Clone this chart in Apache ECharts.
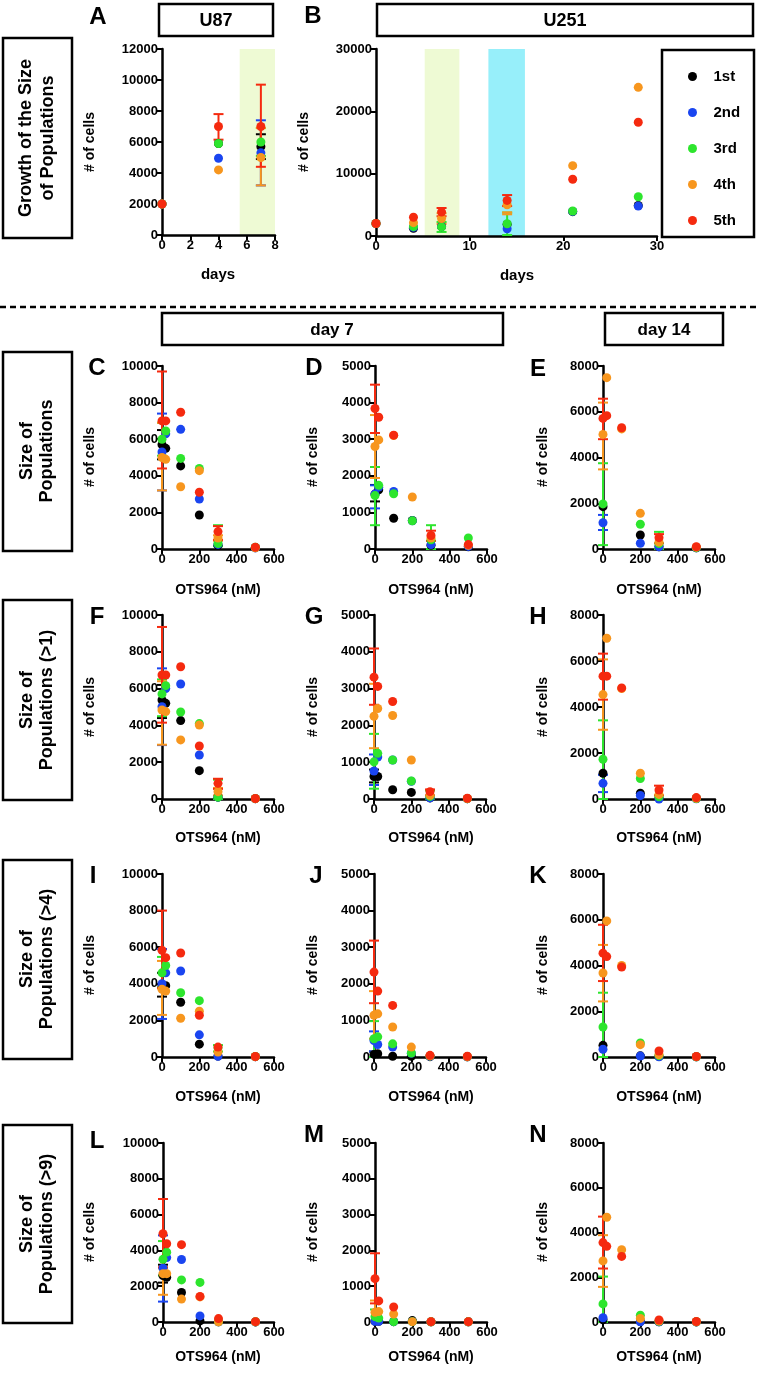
<!DOCTYPE html>
<html>
<head>
<meta charset="utf-8">
<script src="https://cdn.jsdelivr.net/npm/echarts@6/dist/echarts.min.js"></script>
<style>
html,body{margin:0;padding:0;background:#fff;}
#chart{width:757px;height:1374px;}
</style>
</head>
<body>
<div id="chart"></div>
<script>
// ---------------- DATA ----------------
const seriesNames = ['1st', '2nd', '3rd', '4th', '5th'];

// Panel A (U87 growth): days
const daysA = [0, 4, 7];
const A_cells = [
  [2000, 5900, 5700],
  [2000, 4950, 5300],
  [2000, 5900, 6000],
  [2000, 4200, 5000],
  [2000, 7000, 7000]
];
// [series, x, low, high]
const A_err = [
  [4, 4, 6150, 7800],
  [0, 7, 4900, 6500], [1, 7, 3200, 7400], [2, 7, 5100, 6900], [3, 7, 3200, 6900], [4, 7, 4400, 9700]
];
const A_shade = [[5.5, 8]];

// Panel B (U251 growth): days
const daysB = [0, 4, 7, 14, 21, 28];
const B_cells = [
  [2000, 1230, 1500, 1850, 3900, 4900],
  [2000, 1400, 1500, 1150, 3950, 4800],
  [2000, 1500, 1460, 1970, 4010, 6300],
  [2000, 2140, 2800, 5010, 11280, 23850],
  [2000, 3000, 3840, 5710, 9100, 18240]
];
const B_err = [
  [2, 7, 650, 2240], [3, 7, 1940, 3660], [4, 7, 3170, 4490],
  [2, 14, 150, 3750], [3, 14, 3480, 3800], [4, 14, 4800, 6570]
];
const B_shade = [[5.2, 8.9], [12, 15.9]];

// OTS964 doses (nM)
const doses = [0, 20, 100, 200, 300, 500];

const C_cells = [
  [5700, 5500, 4540, 1860, 200, 80],
  [5300, 6300, 6540, 2730, 250, 60],
  [6000, 6450, 4950, 4400, 300, 90],
  [5000, 4900, 3400, 4280, 600, 70],
  [7000, 7000, 7470, 3100, 950, 100]
];
const C_err = [
  [0, 0, 4900, 6500], [1, 0, 3200, 7400], [2, 0, 5100, 6900], [3, 0, 3200, 6900], [4, 0, 4400, 9700],
  [2, 300, 150, 1300], [3, 300, 450, 750], [4, 300, 500, 1250]
];

const D_cells = [
  [1500, 1620, 840, 780, 100, 60],
  [1500, 1690, 1570, 770, 120, 70],
  [1460, 1740, 1510, 770, 250, 300],
  [2800, 2980, 3100, 1420, 300, 100],
  [3840, 3600, 3110, null, 370, 120]
];
const D_err = [
  [0, 0, 1300, 1750], [1, 0, 1110, 1740], [2, 0, 650, 2240], [3, 0, 1940, 3660], [4, 0, 3170, 4490],
  [2, 300, 0, 650], [4, 300, 220, 500]
];

const E_cells = [
  [1850, null, null, 610, 100, 50],
  [1150, null, null, 250, 100, 50],
  [1970, null, null, 1080, 240, 60],
  [5010, 7490, 5250, 1560, 300, 80],
  [5710, 5830, 5300, null, 495, 100]
];
const E_err = [
  [1, 0, 830, 1490], [2, 0, 170, 3750], [3, 0, 3480, 6400], [4, 0, 4800, 6570],
  [2, 300, 0, 750], [4, 300, 250, 650]
];

const F_cells = [
  [5380, 5200, 4260, 1540, 100, 20],
  [5020, 6000, 6250, 2390, 100, 20],
  [5710, 6160, 4730, 4100, 100, 30],
  [4840, 4750, 3210, 4020, 400, 20],
  [6740, 6740, 7190, 2880, 850, 30]
];
const F_err = [
  [0, 0, 4400, 6200], [1, 0, 2930, 7100], [2, 0, 4500, 6500], [3, 0, 2950, 6400], [4, 0, 4150, 9350],
  [2, 300, 0, 1050], [3, 300, 200, 600], [4, 300, 550, 1100]
];

const G_cells = [
  [610, 610, 250, 180, 30, 10],
  [760, 1140, 1060, 480, 30, 10],
  [1010, 1240, 1060, 490, 70, 10],
  [2250, 2460, 2270, 1060, 100, 15],
  [3310, 3060, 2650, null, 200, 20]
];
const G_err = [
  [0, 0, 450, 800], [1, 0, 380, 1210], [2, 0, 280, 1770], [3, 0, 1380, 3130], [4, 0, 2560, 4090],
  [2, 300, 0, 230], [4, 300, 100, 260]
];

const H_cells = [
  [1120, null, null, 250, 50, 20],
  [680, null, null, 150, 0, 10],
  [1730, null, null, 890, 100, 20],
  [4540, 6990, 4800, 1120, 200, 30],
  [5340, 5340, 4830, null, 390, 60]
];
const H_err = [
  [1, 0, 300, 1050], [2, 0, 0, 3420], [3, 0, 3010, 6070], [4, 0, 4320, 6320],
  [4, 300, 160, 580]
];

const I_cells = [
  [3900, 3900, 2990, 700, 50, 20],
  [4000, 4600, 4700, 1210, 40, 20],
  [4600, 5000, 3510, 3080, 500, 30],
  [3700, 3600, 2120, 2500, 270, 20],
  [5830, 5430, 5680, 2280, 540, 30]
];
const I_err = [
  [0, 0, 3300, 4600], [1, 0, 2080, 5900], [2, 0, 3800, 5470], [3, 0, 2300, 5250], [4, 0, 3760, 8000],
  [2, 300, 300, 650]
];

const J_cells = [
  [70, 90, 20, 20, 10, 5],
  [450, 340, 270, 100, 20, 5],
  [500, 550, 360, 110, 30, 10],
  [1140, 1180, 820, 270, 30, 10],
  [2320, 1800, 1410, null, 45, 20]
];
const J_err = [
  [0, 0, 0, 150], [1, 0, 150, 700], [2, 0, 0, 980], [3, 0, 500, 1800], [4, 0, 1470, 3180]
];

const K_cells = [
  [510, null, null, 50, 20, 10],
  [340, null, null, 40, 10, 10],
  [1310, null, null, 610, 60, 10],
  [3670, 5950, 4000, 540, 100, 15],
  [4540, 4390, 3930, null, 260, 20]
];
const K_err = [
  [2, 0, 0, 2810], [3, 0, 2430, 4900], [4, 0, 3320, 5780]
];

const L_cells = [
  [2600, 2500, 1650, 60, 10, 5],
  [3000, 3600, 3490, 340, 10, 5],
  [3500, 3900, 2350, 2210, 20, 10],
  [2700, 2700, 1280, 1400, 10, 10],
  [4930, 4370, 4320, 1430, 190, 20]
];
const L_err = [
  [0, 0, 2200, 3200], [1, 0, 1140, 4840], [2, 0, 2600, 4520], [3, 0, 1520, 3000], [4, 0, 3060, 6870]
];

const M_cells = [
  [20, 20, 10, 40, 5, 5],
  [20, 20, 10, 10, 5, 5],
  [150, 110, 10, 10, 5, 5],
  [270, 290, 220, 10, 5, 5],
  [1210, 590, 420, null, 10, 10]
];
const M_err = [
  [2, 0, 0, 350], [3, 0, 0, 600], [4, 0, 520, 1920]
];

const N_cells = [
  [100, null, null, 20, 10, 5],
  [190, null, null, 10, 10, 5],
  [810, null, null, 300, 30, 10],
  [2730, 4680, 3230, 160, 40, 10],
  [3550, 3380, 2930, null, 90, 20]
];
const N_err = [
  [2, 0, 0, 2030], [3, 0, 1570, 3880], [4, 0, 2390, 4710]
];

// ---------------- LAYOUT / STYLE ----------------
const seriesColors = ['#000000', '#1a45f0', '#2de52d', '#f7961e', '#f52a0f'];
const shadeColors = ['#eefad4', '#97effa'];
const FONT = 'Liberation Sans, Arial, Helvetica, sans-serif';

const doseX = [0, 600, 200];
const panels = [
  {g: [162, 49, 113, 186], xs: daysA, vals: A_cells, err: A_err, x: [0, 8, 2], y: [0, 12000, 2000], shade: A_shade},
  {g: [376, 49, 281, 187], xs: daysB, vals: B_cells, err: B_err, x: [0, 30, 10], y: [0, 30000, 10000], shade: B_shade},
  {g: [162, 366, 112, 183], xs: doses, vals: C_cells, err: C_err, x: doseX, y: [0, 10000, 2000]},
  {g: [375, 366, 112, 183], xs: doses, vals: D_cells, err: D_err, x: doseX, y: [0, 5000, 1000]},
  {g: [603, 366, 112, 183], xs: doses, vals: E_cells, err: E_err, x: doseX, y: [0, 8000, 2000]},
  {g: [162, 615, 112, 184], xs: doses, vals: F_cells, err: F_err, x: doseX, y: [0, 10000, 2000]},
  {g: [374, 615, 112, 184], xs: doses, vals: G_cells, err: G_err, x: doseX, y: [0, 5000, 1000]},
  {g: [603, 615, 112, 184], xs: doses, vals: H_cells, err: H_err, x: doseX, y: [0, 8000, 2000]},
  {g: [162, 874, 112, 183], xs: doses, vals: I_cells, err: I_err, x: doseX, y: [0, 10000, 2000]},
  {g: [374, 874, 112, 183], xs: doses, vals: J_cells, err: J_err, x: doseX, y: [0, 5000, 1000]},
  {g: [603, 874, 112, 183], xs: doses, vals: K_cells, err: K_err, x: doseX, y: [0, 8000, 2000]},
  {g: [163, 1143, 111, 179], xs: doses, vals: L_cells, err: L_err, x: doseX, y: [0, 10000, 2000]},
  {g: [375, 1143, 112, 179], xs: doses, vals: M_cells, err: M_err, x: doseX, y: [0, 5000, 1000]},
  {g: [603, 1143, 112, 179], xs: doses, vals: N_cells, err: N_err, x: doseX, y: [0, 8000, 2000]}
];

function axisCfg(gi, r) {
  return {
    gridIndex: gi, type: 'value', min: r[0], max: r[1], interval: r[2],
    axisLine: {show: true, onZero: false, lineStyle: {color: '#000', width: 2.5}},
    axisTick: {show: true, inside: false, length: 5, lineStyle: {color: '#000', width: 2}},
    axisLabel: {color: '#000', fontWeight: 'bold', fontSize: 13, fontFamily: FONT, margin: 4,
      formatter: v => String(v)},
    splitLine: {show: false}
  };
}

function renderErr(params, api) {
  const x = api.value(0), lo = api.value(1), hi = api.value(2);
  const a = api.coord([x, lo]), b = api.coord([x, hi]);
  const c = api.visual('color');
  const w = 5;
  const st = {stroke: c, lineWidth: 2};
  return {type: 'group', children: [
    {type: 'line', shape: {x1: a[0], y1: a[1], x2: b[0], y2: b[1]}, style: st},
    {type: 'line', shape: {x1: a[0] - w, y1: a[1], x2: a[0] + w, y2: a[1]}, style: st},
    {type: 'line', shape: {x1: b[0] - w, y1: b[1], x2: b[0] + w, y2: b[1]}, style: st}
  ]};
}

function renderShade(params, api) {
  const cs = params.coordSys;
  const a = api.coord([api.value(0), 0]);
  const b = api.coord([api.value(1), 0]);
  return {type: 'rect', shape: {x: a[0], y: cs.y, width: b[0] - a[0], height: cs.height},
    style: {fill: api.visual('color')}};
}

const option = {
  animation: false,
  backgroundColor: '#ffffff',
  grid: [], xAxis: [], yAxis: [], series: [], graphic: [],
  legend: {
    data: seriesNames, orient: 'vertical', left: 683, top: 64,
    icon: 'circle', itemWidth: 20, itemHeight: 9, itemGap: 21,
    textStyle: {color: '#000', fontWeight: 'bold', fontSize: 15, fontFamily: FONT, lineHeight: 15, padding: [0, 0, 0, 6]},
    selectedMode: false
  }
};

panels.forEach((p, gi) => {
  option.grid.push({left: p.g[0], top: p.g[1], width: p.g[2], height: p.g[3]});
  option.xAxis.push(axisCfg(gi, p.x));
  option.yAxis.push(axisCfg(gi, p.y));
  if (p.shade) {
    option.series.push({
      type: 'custom', xAxisIndex: gi, yAxisIndex: gi, z: 0, silent: true,
      renderItem: renderShade,
      data: p.shade.map((s, i) => ({value: s, itemStyle: {color: shadeColors[i]}}))
    });
  }
  for (let s = 0; s < 5; s++) {
    const ed = p.err.filter(e => e[0] === s).map(e => [e[1], e[2], e[3]]);
    if (ed.length) {
      option.series.push({
        type: 'custom', name: seriesNames[s] + ' SD', xAxisIndex: gi, yAxisIndex: gi, z: 3,
        itemStyle: {color: seriesColors[s]}, renderItem: renderErr, data: ed,
        encode: {x: 0, y: [1, 2]}
      });
    }
  }
  for (let s = 0; s < 5; s++) {
    const data = [];
    p.xs.forEach((x, i) => { const v = p.vals[s][i]; if (v != null) data.push([x, v]); });
    option.series.push({
      type: 'scatter', name: seriesNames[s], xAxisIndex: gi, yAxisIndex: gi, z: 4,
      symbol: 'circle', symbolSize: 9, itemStyle: {color: seriesColors[s], opacity: 1},
      data: data
    });
  }
});

// ---------------- GRAPHIC TEXT & BOXES ----------------
const G = option.graphic;
function box(x, y, w, h) {
  G.push({type: 'rect', shape: {x: x, y: y, width: w, height: h},
    style: {fill: 'none', stroke: '#000', lineWidth: 2.5}, z: 10});
}
function txt(x, y, t, size, rot, lh) {
  G.push({type: 'text', x: x, y: y, rotation: rot || 0, z: 10,
    style: {text: t, fill: '#000', font: 'bold ' + size + 'px ' + FONT,
      align: 'center', verticalAlign: 'middle', lineHeight: lh || size}});
}
const V = Math.PI / 2;

// top header boxes
box(159, 4, 114, 32); txt(216, 21, 'U87', 18);
box(377, 4, 376, 32); txt(565, 21, 'U251', 18);
// legend box
box(662, 50, 92, 187);
// dashed separator
G.push({type: 'line', shape: {x1: 0, y1: 307, x2: 757, y2: 307},
  style: {stroke: '#000', lineWidth: 2.5, lineDash: [6, 4]}, z: 10});
// day boxes
box(162, 313, 341, 32); txt(332, 330, 'day 7', 17);
box(605, 313, 118, 32); txt(664, 330, 'day 14', 17);

// row label boxes
box(3, 38, 69, 200); txt(37, 138, 'Growth of the Size\nof Populations', 18, V, 22);
box(3, 352, 69, 199); txt(37, 451, 'Size of\nPopulations', 18, V, 20);
box(3, 600, 69, 200); txt(37, 700, 'Size of\nPopulations (>1)', 18, V, 20);
box(3, 860, 69, 199); txt(37, 959, 'Size of\nPopulations (>4)', 18, V, 20);
box(3, 1125, 69, 198); txt(37, 1224, 'Size of\nPopulations (>9)', 18, V, 20);

// panel letters
[['A', 98, 17], ['B', 313, 16], ['C', 97, 368], ['D', 314, 368], ['E', 538, 369],
 ['F', 97, 617], ['G', 314, 617], ['H', 538, 617], ['I', 93, 876], ['J', 316, 876], ['K', 538, 876],
 ['L', 97, 1141], ['M', 314, 1135], ['N', 538, 1135]].forEach(l => txt(l[1], l[2], l[0], 24));

// axis names
txt(218, 275, 'days', 15);
txt(517, 276, 'days', 15);
txt(90, 142, '# of cells', 14, V);
txt(304, 142, '# of cells', 14, V);
const rowsY = [[457, 590], [707, 838], [965, 1097], [1232, 1357]];
const colsX = [[90, 218], [313, 431], [543, 659]];
rowsY.forEach(r => colsX.forEach(c => {
  txt(c[0], r[0], '# of cells', 14, V);
  txt(c[1], r[1], 'OTS964 (nM)', 14);
}));

const chart = echarts.init(document.getElementById('chart'), null, {renderer: 'canvas'});
chart.setOption(option);
</script>
</body>
</html>
